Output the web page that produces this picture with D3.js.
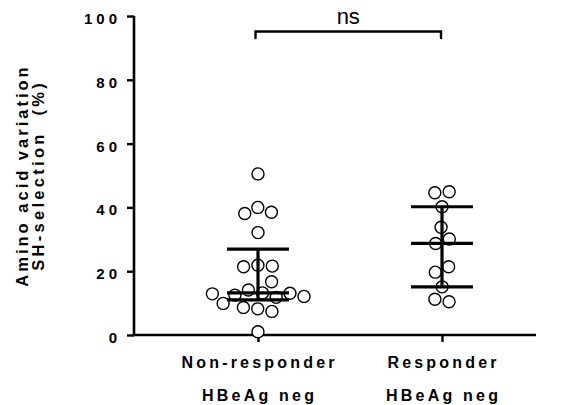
<!DOCTYPE html>
<html>
<head>
<meta charset="utf-8">
<script src="https://cdn.jsdelivr.net/npm/d3@7"></script>
<style>
  html, body { margin: 0; padding: 0; background: #fff; }
  svg { display: block; }
  text { font-family: "Liberation Sans", Arial, sans-serif; fill: #000; }
</style>
</head>
<body>
<svg id="chart" width="566" height="405"></svg>
<script>
// ---- data ----
const categories = ["Non-responder", "Responder"];
const categorySub = ["HBeAg neg", "HBeAg neg"];
const nonResponder = [50.5, 38.5, 38.1, 40.0, 32.1, 21.6, 21.4, 21.9, 16.7, 14.1,
                      13.1, 12.9, 12.1, 9.9, 8.2, 7.4, 8.6, 11.8, 12.5, 13.2, 1.0];
const responder = [44.6, 44.9, 40.2, 33.8, 28.7, 30.1, 21.4, 19.7, 15.1, 10.4, 11.2];
const medians = [13.2, 28.7];
const q1 = [11.0, 15.1];
const q3 = [26.9, 40.2];
const yTicks = [0, 20, 40, 60, 80, 100];
const yTitle = ["Amino acid variation", "SH-selection  (%)"];
const sigLabel = "ns";

(function () {
// ---- layout ----
const svg = d3.select("#chart");
const axisX = 134, axisRight = 536, plotTop = 16, plotBottom = 335;
const y = d3.scaleLinear().domain([0, 100]).range([plotBottom, plotTop]);
const x = d3.scalePoint().domain(categories).range([258, 442]);
const R = 6;

// axes
const tickLS = 4;
const yAxis = d3.axisLeft(y).tickValues(yTicks).tickSize(7).tickPadding(10).tickFormat(d3.format("d"));
const gy = svg.append("g").attr("transform", `translate(${axisX},0)`).call(yAxis);
gy.select(".domain").attr("stroke", "#000").attr("stroke-width", 2.6)
  .attr("d", `M0,${plotTop}V${plotBottom}`);
gy.selectAll(".tick line").attr("stroke", "#000").attr("stroke-width", 2.4);
gy.selectAll(".tick text")
  .style("font-size", "15px").style("font-weight", "bold").style("letter-spacing", tickLS + "px")
  .attr("dx", tickLS + "px").attr("dy", "0.5em");

// x axis
const xAxis = d3.axisBottom(x).tickSize(7).tickFormat("");
const gx = svg.append("g").attr("transform", `translate(0,${plotBottom})`).call(xAxis);
gx.select(".domain").attr("stroke", "#000").attr("stroke-width", 2.6)
  .attr("d", `M${axisX - 1.3},0H${axisRight}`);
gx.selectAll(".tick line").attr("stroke", "#000").attr("stroke-width", 2.4);

// category labels
const catG = svg.append("g");
const catLS = 3.2;
categories.forEach((c, i) => {
  catG.append("text").attr("x", x(c)).attr("y", 367.5).attr("dx", catLS / 2)
    .attr("text-anchor", "middle")
    .style("font-size", "16px").style("font-weight", "bold").style("letter-spacing", catLS + "px")
    .text(c);
  catG.append("text").attr("x", x(c)).attr("y", 400.5).attr("dx", catLS / 2)
    .attr("text-anchor", "middle")
    .style("font-size", "16px").style("font-weight", "bold").style("letter-spacing", catLS + "px")
    .text(categorySub[i]);
});

// y title
const yt = svg.append("g").attr("transform", "translate(0,177) rotate(-90)");
yt.append("text").attr("x", 0).attr("y", 27.5).attr("dx", 1.5).attr("text-anchor", "middle")
  .style("font-size", "16.5px").style("font-weight", "bold").style("letter-spacing", "3px")
  .text(yTitle[0]);
yt.append("text").attr("x", 0).attr("y", 44.3).attr("dx", 1.6).attr("text-anchor", "middle")
  .attr("xml:space", "preserve").style("white-space", "pre")
  .style("font-size", "16.5px").style("font-weight", "bold").style("letter-spacing", "3.3px")
  .text(yTitle[1]);

// ---- points (beeswarm via force layout) ----
const groups = [nonResponder, responder];
const nodes = [];
groups.forEach((vals, gi) => {
  vals.forEach(v => nodes.push({ cat: categories[gi], v: v, x: x(categories[gi]), fy: y(v) }));
});
const sim = d3.forceSimulation(nodes)
  .force("x", d3.forceX(d => x(d.cat)).strength(0.06))
  .force("collide", d3.forceCollide(R + 1.2).iterations(4))
  .stop();
for (let i = 0; i < 400; i++) sim.tick();

svg.append("g").selectAll("circle").data(nodes).join("circle")
  .attr("cx", d => d.x).attr("cy", d => d.fy).attr("r", R)
  .attr("fill", "#fff").attr("stroke", "#000").attr("stroke-width", 1.4);

// ---- median & interquartile range ----
const eb = svg.append("g").attr("stroke", "#000").attr("stroke-width", 3.2);
const halfW = 31;
categories.forEach((c, i) => {
  const cx = x(c);
  eb.append("line").attr("x1", cx).attr("x2", cx).attr("y1", y(q1[i])).attr("y2", y(q3[i]));
  [q1[i], medians[i], q3[i]].forEach(v => {
    eb.append("line").attr("x1", cx - halfW).attr("x2", cx + halfW).attr("y1", y(v)).attr("y2", y(v));
  });
});

// ---- significance bracket ----
const by = 31.5, tip = 6.5;
const x1 = x(categories[0]) - 2.5, x2 = x(categories[1]) - 1;
svg.append("path")
  .attr("d", `M${x1},${by + tip}V${by}H${x2}V${by + tip}`)
  .attr("fill", "none").attr("stroke", "#000").attr("stroke-width", 2.4).attr("stroke-linecap", "round");
svg.append("text").attr("x", (x1 + x2) / 2).attr("y", 24)
  .attr("text-anchor", "middle").style("font-size", "22px")
  .text(sigLabel);
})();
</script>
</body>
</html>
